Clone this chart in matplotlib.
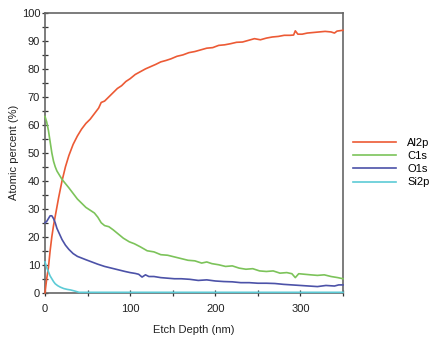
import matplotlib
matplotlib.use("Agg")
import matplotlib.pyplot as plt
from matplotlib.ticker import MultipleLocator

plt.rcParams['font.family'] = ['Liberation Sans', 'DejaVu Sans']

al_x = [0, 2, 4, 6, 8, 10, 13, 16, 20, 24, 28, 33, 38, 43, 48, 53, 58, 63, 66, 70,
        75, 80, 85, 90, 95, 100, 106, 112, 118, 124, 130, 136, 142, 148, 155, 162,
        169, 176, 183, 190, 197, 204, 211, 218, 225, 232, 239, 246, 253, 260, 267,
        274, 281, 288, 292, 294, 297, 302, 308, 315, 322, 329, 336, 340, 343, 350]
al_y = [0, 5, 9, 15, 20, 24, 29, 34, 40, 45, 49, 53, 56, 58.5, 60.5, 62, 64, 66,
        68, 68.5, 70, 71.5, 73, 74, 75.5, 76.5, 78, 79, 80, 80.8, 81.6, 82.5, 83,
        83.6, 84.5, 85, 85.8, 86.2, 86.8, 87.4, 87.6, 88.4, 88.6, 89, 89.5, 89.6,
        90.2, 90.8, 90.4, 91, 91.4, 91.6, 92, 92, 92.1, 93.6, 92.4, 92.4, 92.8,
        93, 93.2, 93.4, 93.2, 92.8, 93.5, 93.8]

c_x = [0, 2, 4, 6, 8, 10, 12, 14, 17, 20, 24, 28, 33, 38, 43, 48, 53, 58, 62, 66,
       70, 75, 80, 86, 92, 99, 105, 112, 120, 128, 136, 144, 152, 160, 168, 176,
       184, 190, 196, 204, 212, 220, 228, 236, 244, 252, 260, 268, 276, 284, 290,
       294, 298, 305, 312, 320, 328, 336, 344, 350]
c_y = [63, 61, 58, 54, 50, 47, 45, 43.5, 42, 40.5, 39, 37.5, 35.5, 33.5, 32, 30.5,
       29.5, 28.5, 27, 25, 24, 23.6, 22.5, 21, 19.5, 18.2, 17.5, 16.4, 15, 14.6,
       13.6, 13.4, 12.8, 12.2, 11.6, 11.4, 10.6, 11, 10.4, 10, 9.4, 9.6, 8.8, 8.4,
       8.6, 7.8, 7.6, 7.8, 7.0, 7.2, 6.8, 5.4, 6.8, 6.6, 6.4, 6.2, 6.4, 5.8, 5.4, 5.0]

o_x = [0, 2, 4, 6, 8, 10, 12, 14, 17, 20, 24, 28, 33, 38, 43, 48, 55, 62, 70, 78,
       86, 94, 100, 106, 110, 114, 118, 122, 128, 136, 144, 152, 160, 170, 180,
       190, 200, 210, 220, 230, 240, 250, 260, 270, 280, 290, 300, 310, 320, 330,
       340, 345, 350]
o_y = [25, 25.5, 26.5, 27.5, 27.5, 26.5, 25, 23, 21, 19, 17, 15.5, 14, 13, 12.4,
       11.8, 11, 10.2, 9.4, 8.8, 8.2, 7.6, 7.2, 6.9, 6.6, 5.6, 6.4, 5.8, 5.8, 5.4,
       5.2, 5.0, 5.0, 4.8, 4.4, 4.6, 4.2, 4.0, 3.9, 3.6, 3.6, 3.4, 3.4, 3.3, 3.0,
       2.8, 2.6, 2.4, 2.2, 2.6, 2.4, 2.8, 2.8]

si_x = [0, 2, 4, 6, 8, 10, 12, 15, 18, 22, 26, 30, 35, 40, 50, 100, 150, 200, 250,
        300, 350]
si_y = [11, 9, 7.5, 6, 5, 4, 3.2, 2.5, 2, 1.5, 1.2, 1.0, 0.6, 0.15, 0.15, 0.15,
        0.15, 0.15, 0.15, 0.15, 0.15]

labels = ['Al2p', 'C1s', 'O1s', 'Si2p']
colors = ['#ec5a35', '#7cc35a', '#4c52a8', '#5ccbd6']

fig = plt.figure(figsize=(4.4, 3.4), dpi=100)
ax = fig.add_axes([0.1023, 0.139, 0.6772, 0.823])

series = [(al_x, al_y), (c_x, c_y), (o_x, o_y), (si_x, si_y)]
for (xs, ys), lab, col in zip(series, labels, colors):
    ax.plot(xs, ys, color=col, lw=1.2, label=lab, zorder=3, clip_on=False)

ax.set_xlim(0, 350)
ax.set_ylim(0, 100)
ax.xaxis.set_major_locator(MultipleLocator(100))
ax.xaxis.set_minor_locator(MultipleLocator(50))
ax.yaxis.set_major_locator(MultipleLocator(10))
ax.yaxis.set_minor_locator(MultipleLocator(5))
ax.tick_params(which='both', direction='inout', top=False, right=False,
               color='#333333', labelsize=8, labelcolor='#222222', width=0.9)
ax.tick_params(which='major', length=5)
ax.tick_params(which='minor', length=4)
ax.tick_params(axis='x', which='major', pad=5.5)
ax.tick_params(axis='y', which='major', pad=1.0)
for s in ax.spines.values():
    s.set_color('#666666')
    s.set_linewidth(1.2)

ax.set_xlabel('Etch Depth (nm)', fontsize=8, color='#222222', labelpad=8)
ax.set_ylabel('Atomic percent (%)', fontsize=8, color='#222222', labelpad=2)

fig.legend(loc='upper left', bbox_to_anchor=(0.789, 0.61), frameon=False,
           fontsize=8, handlelength=3.9, handletextpad=1.0, labelspacing=0.28,
           borderpad=0)

fig.savefig('out.png', dpi=100)
